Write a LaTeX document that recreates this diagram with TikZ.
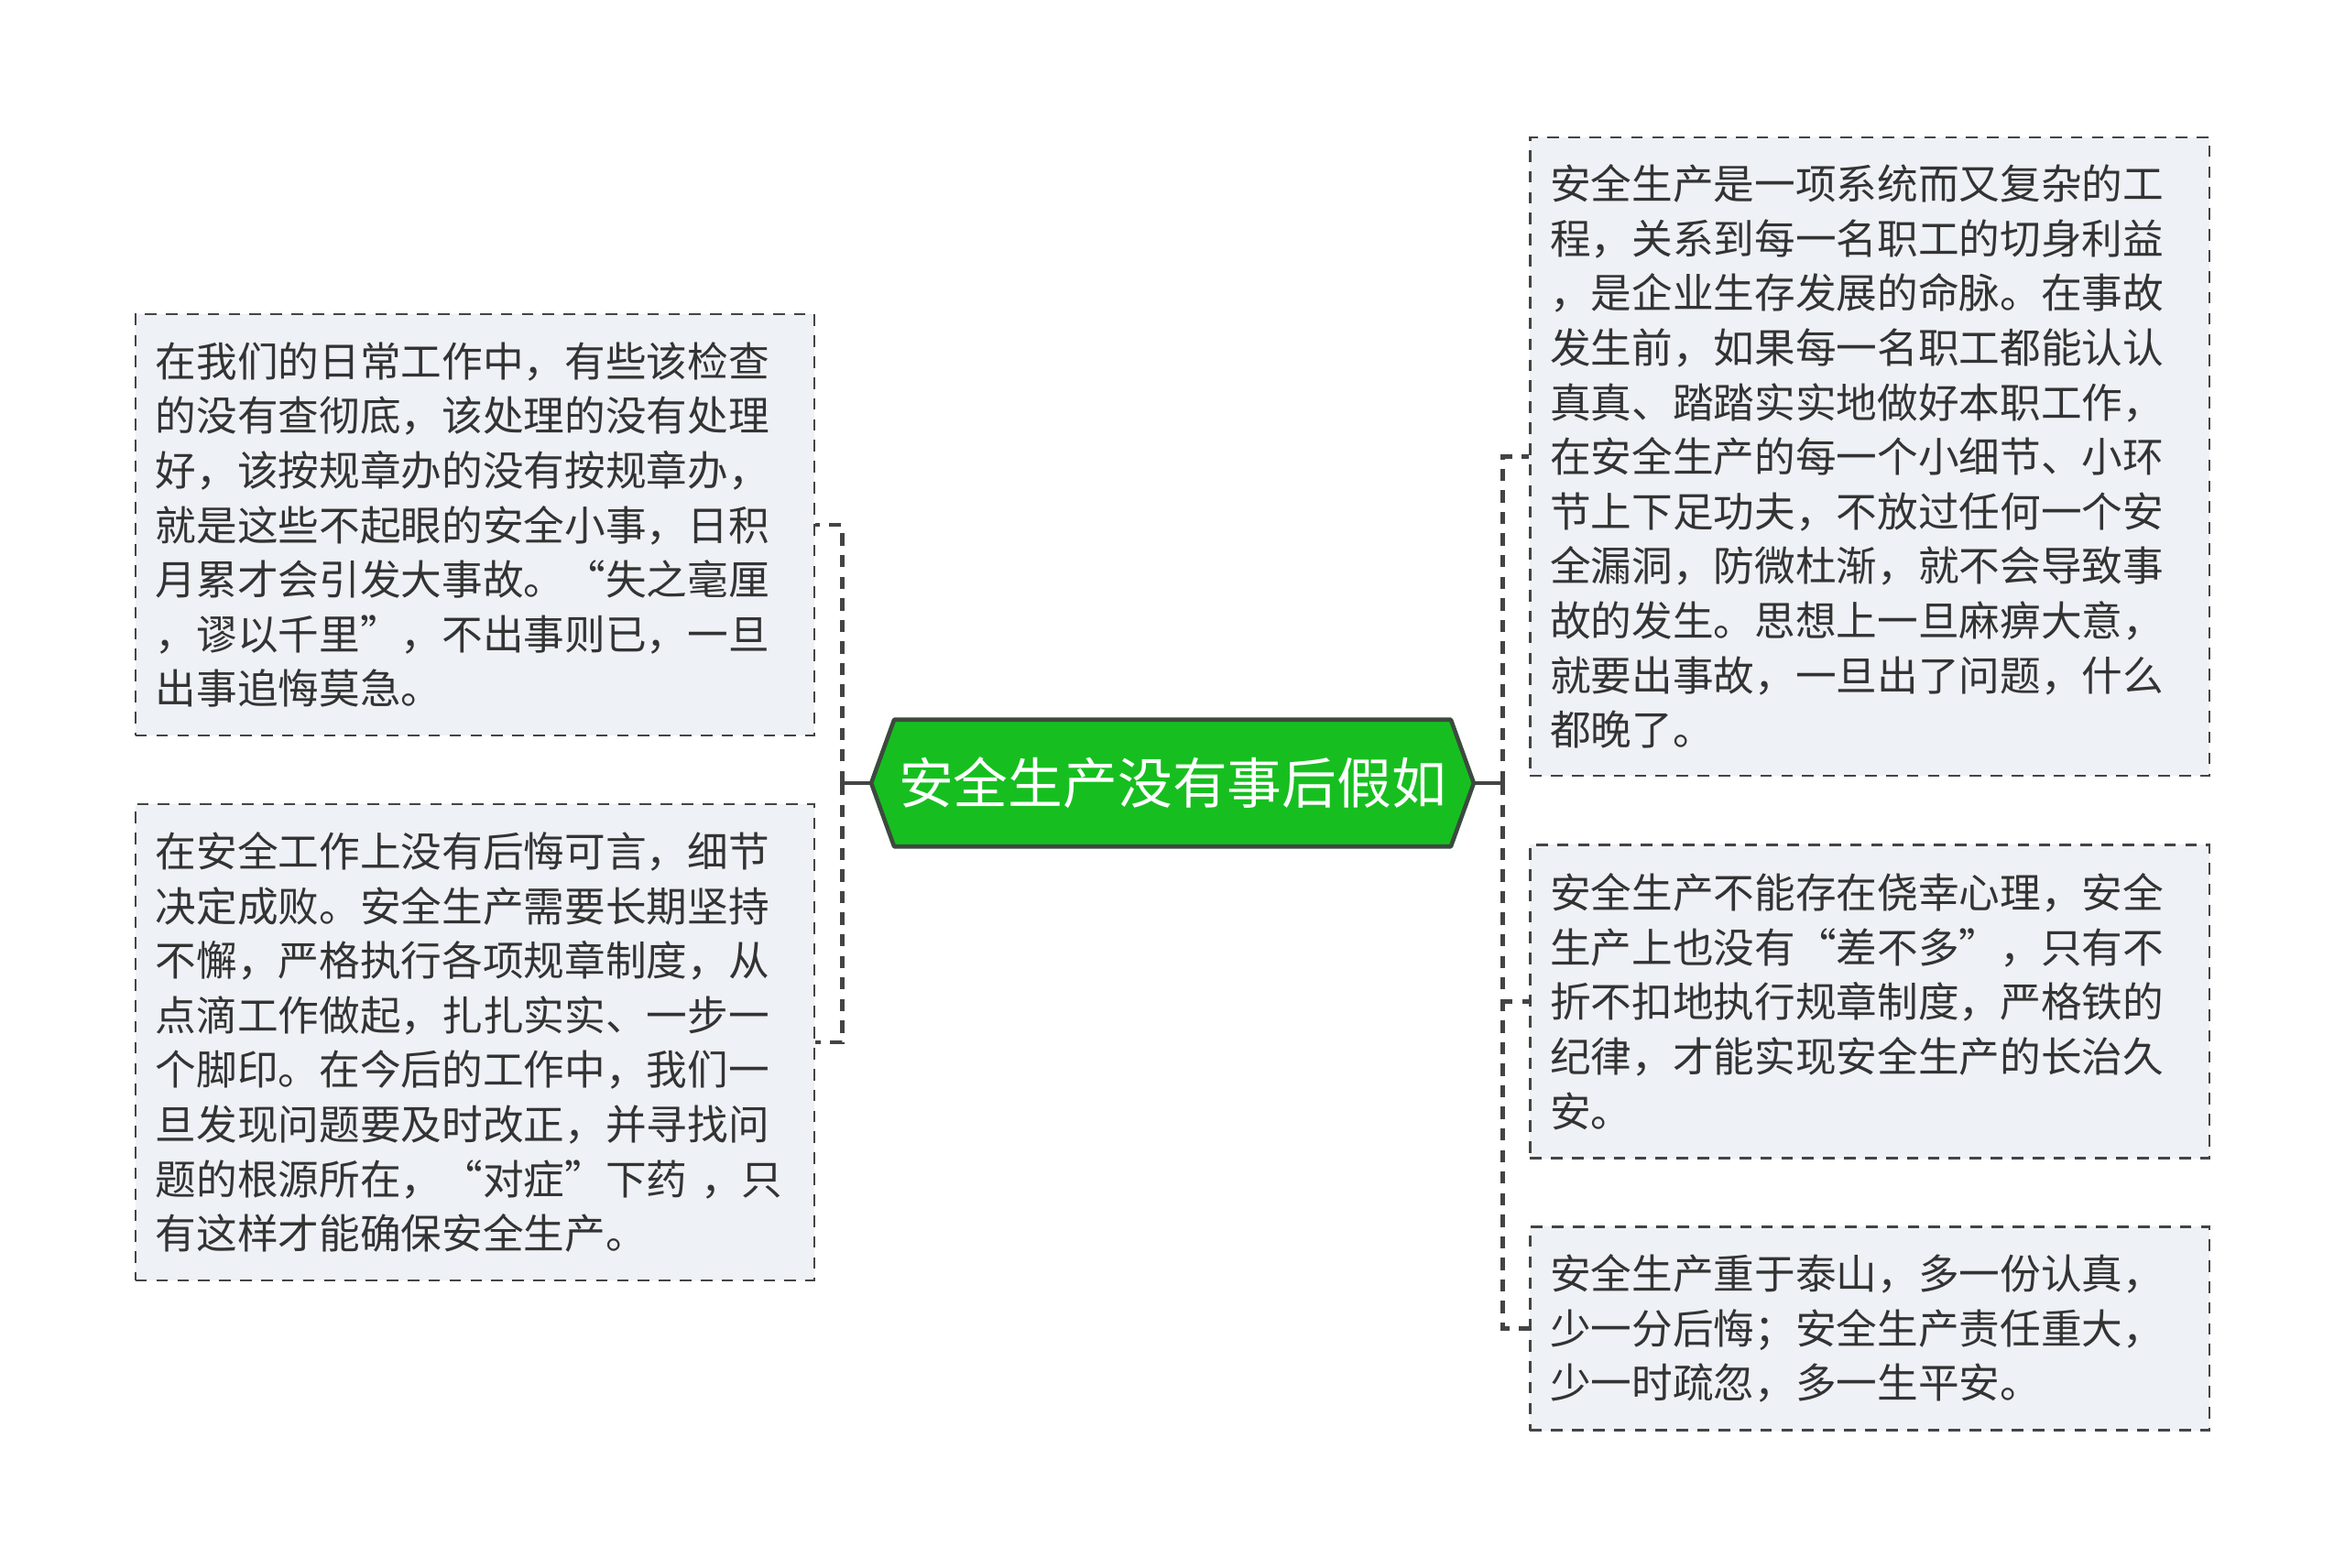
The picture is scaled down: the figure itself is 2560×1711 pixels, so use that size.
\documentclass[tikz,border=0pt]{standalone}
\usepackage{fontspec}
\setmainfont{Noto Sans CJK SC}
\usetikzlibrary{calc,backgrounds}
\definecolor{rootgreen}{HTML}{16BF1F}
\definecolor{rootline}{HTML}{3C4A3E}
\definecolor{boxfill}{HTML}{EEF1F5}
\definecolor{inkgray}{HTML}{333333}
\definecolor{linegray}{HTML}{444444}

\begin{document}
\begin{tikzpicture}[x=0.01cm,y=-0.01cm,
	topic/.style={minimum width=6.56cm,minimum height=1.37cm,inner sep=0pt,text=white,font=\fontsize{17}{20}\selectfont},
	leaf/.style={draw=linegray,fill=boxfill,line width=0.7pt,dash pattern=on 3.6pt off 2.9pt,text=inkgray,font=\fontsize{12.7}{16.95}\selectfont,align=left,text width=6.97cm,inner xsep=0.22cm,inner ysep=0pt,minimum width=7.41cm},
	link/.style={draw=linegray,line width=1.4pt,dash pattern=on 3.8pt off 2.9pt}]
			%%%%% START %%%%%
			\def\hw{25}
			\def\lx{518.5}
			\def\rx{2041}
			\def\gap{32}
			
			\useasboundingbox (0,0) rectangle (2560,1711);
			
			\node[topic] (root) at (1280,855) {安全生产没有事后假如};
			\begin{pgfonlayer}{background}
				\filldraw[fill=rootgreen,draw=rootline,line width=1.3pt,line join=round]
					(root.west) -- ($(root.north west)+(\hw,0)$) -- ($(root.north east)+(-\hw,0)$)
					-- (root.east) -- ($(root.south east)+(-\hw,0)$) -- ($(root.south west)+(\hw,0)$) -- cycle;
			\end{pgfonlayer}
			
			\node[leaf,minimum height=4.60cm] (l1) at (\lx,573) {在我们的日常工作中，有些该检查\\的没有查彻底，该处理的没有处理\\好，该按规章办的没有按规章办，\\就是这些不起眼的安全小事，日积\\月累才会引发大事故。“失之毫厘\\，谬以千里”，不出事则已，一旦\\出事追悔莫急。};
			\node[leaf,minimum height=5.20cm] (l2) at (\lx,1138) {在安全工作上没有后悔可言，细节\\决定成败。安全生产需要长期坚持\\不懈，严格执行各项规章制度，从\\点滴工作做起，扎扎实实、一步一\\个脚印。在今后的工作中，我们一\\旦发现问题要及时改正，并寻找问\\题的根源所在，“对症”下药 ，只\\有这样才能确保安全生产。};
			
			\node[leaf,minimum height=6.97cm] (r1) at (\rx,498.5) {安全生产是一项系统而又复杂的工\\程，关系到每一名职工的切身利益\\，是企业生存发展的命脉。在事故\\发生前，如果每一名职工都能认认\\真真、踏踏实实地做好本职工作，\\在安全生产的每一个小细节、小环\\节上下足功夫，不放过任何一个安\\全漏洞，防微杜渐，就不会导致事\\故的发生。思想上一旦麻痹大意，\\就要出事故，一旦出了问题，什么\\都晚了。};
			\node[leaf,minimum height=3.42cm] (r2) at (\rx,1093.5) {安全生产不能存在侥幸心理，安全\\生产上也没有“差不多”，只有不\\折不扣地执行规章制度，严格铁的\\纪律，才能实现安全生产的长治久\\安。};
			\node[leaf,minimum height=2.22cm] (r3) at (\rx,1450.5) {安全生产重于泰山，多一份认真，\\少一分后悔；安全生产责任重大，\\少一时疏忽，多一生平安。};
			
			\coordinate (lj) at ($(root.west)+(-\gap,0)$);
			\coordinate (rj) at ($(root.east)+(\gap,0)$);
			\draw[linegray,line width=1.4pt] (root.west) -- (lj);
			\draw[linegray,line width=1.4pt] (root.east) -- (rj);
			\draw[link] (lj) |- (l1.east);
			\draw[link] (lj) |- (l2.east);
			\draw[link] (rj) |- (r1.west);
			\draw[link] (rj) |- (r2.west);
			\draw[link] (rj) |- (r3.west);
			%%%%% END %%%%%
\end{tikzpicture}
\end{document}
